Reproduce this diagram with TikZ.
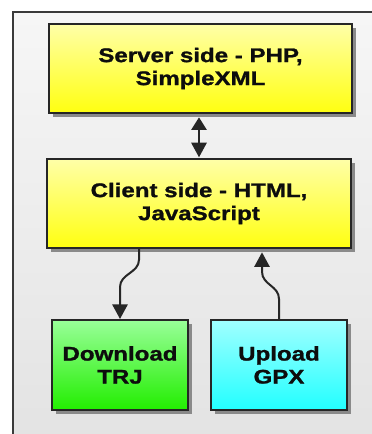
\documentclass[tikz,border=0pt]{standalone}
\usepackage{fontspec}
\newfontfamily\lblfont[FakeStretch=1.22,FakeBold=1.2]{Liberation Sans}
\usetikzlibrary{arrows.meta,shadows}
\definecolor{edge}{HTML}{262626}
\definecolor{framebd}{HTML}{3A3A3A}
\definecolor{ytop}{HTML}{FFFFA8}
\definecolor{ybot}{HTML}{FFFF10}
\definecolor{gtop}{HTML}{99FF99}
\definecolor{gbot}{HTML}{22EE00}
\definecolor{ctop}{HTML}{A0FFFF}
\definecolor{cbot}{HTML}{22FFFF}
\definecolor{shadowgray}{HTML}{8A8A8A}
\tikzset{
  boxbase/.style={draw=edge, line width=1.5pt, align=center, inner sep=0pt,
    font=\lblfont\bfseries\fontsize{14.8}{17.25}\selectfont, text=black!95,
    drop shadow={shadow xshift=3pt, shadow yshift=-3pt, fill=shadowgray, opacity=1}},
  widebox/.style={boxbase, minimum width=227.5pt, minimum height=66.75pt},
  smallbox/.style={boxbase, minimum width=102pt, minimum height=67.5pt},
  conn/.style={draw=edge, line width=1.5pt, arrows={-Triangle[width=11.5pt,length=11pt]}},
}
\begin{document}
\begin{tikzpicture}[x=0.75pt,y=0.75pt]
\useasboundingbox (0,0) rectangle (371,434);
% frame
\node[draw=framebd, line width=1.5pt, top color=gray!7, bottom color=gray!22,
  minimum width=375*0.75pt, minimum height=430*0.75pt, anchor=north west, inner sep=0pt]
  (frame) at (12,423) {};
% boxes
\node[widebox, top color=ytop, bottom color=ybot] (server) at (200.5,365.5) {Server side - PHP,\\SimpleXML};
\node[widebox, top color=ytop, bottom color=ybot] (client) at (199,230.5) {Client side - HTML,\\JavaScript};
\node[smallbox, top color=gtop, bottom color=gbot] (download) at (120,69) {Download\\TRJ};
\node[smallbox, top color=ctop, bottom color=cbot] (upload) at (279,69) {Upload\\GPX};
% connectors
\draw[draw=edge, line width=1.5pt, arrows={Triangle[width=11.5pt,length=9.5pt]-Triangle[width=11.5pt,length=11pt]},
  shorten <=2.5pt, shorten >=0.5pt]
  (client.north |- server.south) -- (client.north);
\draw[conn]
  ([xshift=-45pt]client.south) -- ++(0,-8pt)
  .. controls +(0,-10pt) and +(0,10pt) .. ([yshift=24pt]download.north)
  -- (download.north);
\draw[conn, shorten >=2.5pt]
  (upload.north) -- ++(0,15pt)
  .. controls +(0,10pt) and +(0,-10pt) .. ([xshift=47.25pt,yshift=-17pt]client.south)
  -- ([xshift=47.25pt]client.south);
\end{tikzpicture}
\end{document}
